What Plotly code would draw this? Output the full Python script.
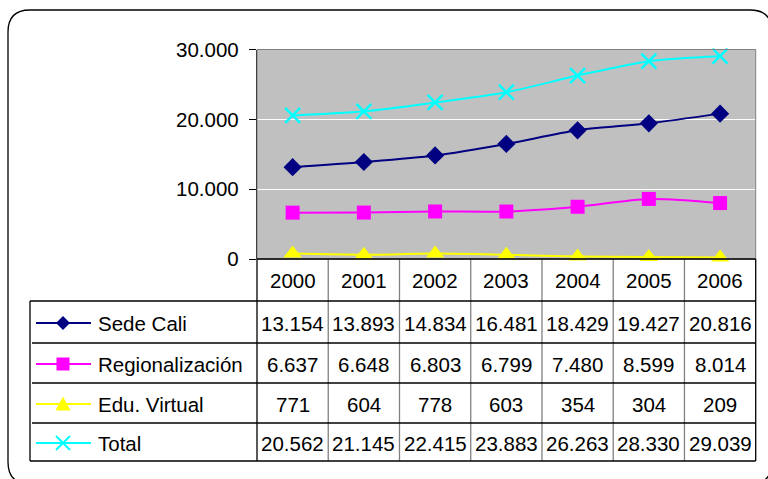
import plotly.graph_objects as go

# ---------------- data ----------------
years = ["2000", "2001", "2002", "2003", "2004", "2005", "2006"]
sede_cali = [13154, 13893, 14834, 16481, 18429, 19427, 20816]
regionalizacion = [6637, 6648, 6803, 6799, 7480, 8599, 8014]
edu_virtual = [771, 604, 778, 603, 354, 304, 209]
total = [20562, 21145, 22415, 23883, 26263, 28330, 29039]
series_names = ["Sede Cali", "Regionalización", "Edu. Virtual", "Total"]
y_tickvals = [0, 10000, 20000, 30000]
y_ticktext = ["0", "10.000", "20.000", "30.000"]

# ---------------- styling ----------------
W, H = 768, 479
FONT = "Liberation Sans, Arial, sans-serif"
FS = 20.5
colors = ["#000080", "#FF00FF", "#FFFF00", "#00FFFF"]
symbols = ["diamond", "square", "triangle-up", "x-thin"]
msizes = [14, 14, 16, 15]
series_vals = [sede_cali, regionalizacion, edu_virtual, total]

def X(px):
    return px / W

def Y(py):
    return 1 - py / H

def fmt(v):
    return f"{v:,}".replace(",", ".")

# plot area pixels
PL, PR, PT, PB = 257, 755.7, 49.5, 259
TL = 30
row_edges = [301, 343, 383, 423, 461]

fig = go.Figure()

for name, vals, c, s, ms in zip(series_names, series_vals, colors, symbols, msizes):
    fig.add_trace(go.Scatter(
        x=years, y=vals, name=name, mode="lines+markers",
        line=dict(color=c, width=2, shape="spline", smoothing=0.8),
        marker=dict(symbol=s, size=ms, color=c,
                    line=dict(color=c, width=2.5 if s == "x-thin" else 0)),
        cliponaxis=False, showlegend=False,
    ))

shapes = []
# outer rounded border
r = 22
x0, y0, x1, y1 = 8, 10, 772, 484
path = (f"M {X(x0+r)},{Y(y0)} L {X(x1-r)},{Y(y0)} Q {X(x1)},{Y(y0)} {X(x1)},{Y(y0+r)} "
        f"L {X(x1)},{Y(y1-r)} Q {X(x1)},{Y(y1)} {X(x1-r)},{Y(y1)} "
        f"L {X(x0+r)},{Y(y1)} Q {X(x0)},{Y(y1)} {X(x0)},{Y(y1-r)} "
        f"L {X(x0)},{Y(y0+r)} Q {X(x0)},{Y(y0)} {X(x0+r)},{Y(y0)} Z")
shapes.append(dict(type="path", path=path, xref="paper", yref="paper",
                   line=dict(color="#000000", width=1.3), layer="below"))

# plot area outline
shapes.append(dict(type="rect", xref="paper", yref="paper",
                   x0=X(PL), x1=X(PR), y0=Y(PB), y1=Y(PT),
                   line=dict(color="#808080", width=1), layer="above"))

# table vertical lines
ncol = len(years)
colw = (PR - PL) / ncol
for k in range(ncol + 1):
    xx = PL + k * colw
    shapes.append(dict(type="line", xref="paper", yref="paper",
                       x0=X(xx), x1=X(xx), y0=Y(PB), y1=Y(row_edges[-1]),
                       line=dict(color="#808080" if 0 < k < ncol else "#000000", width=1.3)))
# left table edge
shapes.append(dict(type="line", xref="paper", yref="paper",
                   x0=X(TL), x1=X(TL), y0=Y(row_edges[0]), y1=Y(row_edges[-1]),
                   line=dict(color="#000000", width=1.3)))
# horizontal lines
for i, ye in enumerate(row_edges):
    xs = TL if i in (0, len(row_edges) - 1) else TL + 2
    shapes.append(dict(type="line", xref="paper", yref="paper",
                       x0=X(xs), x1=X(PR), y0=Y(ye), y1=Y(ye),
                       line=dict(color="#000000", width=1.3)))
# x-axis line (top of header row)
shapes.append(dict(type="line", xref="paper", yref="paper",
                   x0=X(PL), x1=X(PR), y0=Y(PB), y1=Y(PB),
                   line=dict(color="#000000", width=1.3)))

annotations = []
# header years
for j, yr in enumerate(years):
    annotations.append(dict(x=j, xref="x", y=Y((PB + row_edges[0]) / 2), yref="paper",
                            text=yr, showarrow=False, xanchor="center", yanchor="middle",
                            font=dict(family=FONT, size=FS, color="#000000")))

# legend key + labels + values
lx0, lx1, lmx = 36, 91, 63
for i, (name, vals, c) in enumerate(zip(series_names, series_vals, colors)):
    cy = (row_edges[i] + row_edges[i + 1]) / 2 + 1
    shapes.append(dict(type="line", xref="paper", yref="paper",
                       x0=X(lx0), x1=X(lx1), y0=Y(cy), y1=Y(cy),
                       line=dict(color=c, width=2)))
    if i == 0:
        d = 7
        shapes.append(dict(type="path", xref="paper", yref="paper",
                           path=f"M {X(lmx)},{Y(cy-d)} L {X(lmx+d)},{Y(cy)} L {X(lmx)},{Y(cy+d)} L {X(lmx-d)},{Y(cy)} Z",
                           fillcolor=c, line=dict(color=c, width=0)))
    elif i == 1:
        d = 6.5
        shapes.append(dict(type="rect", xref="paper", yref="paper",
                           x0=X(lmx-d), x1=X(lmx+d), y0=Y(cy+d), y1=Y(cy-d),
                           fillcolor=c, line=dict(color=c, width=0)))
    elif i == 2:
        d = 7.5
        shapes.append(dict(type="path", xref="paper", yref="paper",
                           path=f"M {X(lmx)},{Y(cy-d)} L {X(lmx+d)},{Y(cy+d-1)} L {X(lmx-d)},{Y(cy+d-1)} Z",
                           fillcolor=c, line=dict(color=c, width=0)))
    else:
        d = 7
        shapes.append(dict(type="line", xref="paper", yref="paper",
                           x0=X(lmx-d), x1=X(lmx+d), y0=Y(cy-d), y1=Y(cy+d),
                           line=dict(color=c, width=2)))
        shapes.append(dict(type="line", xref="paper", yref="paper",
                           x0=X(lmx-d), x1=X(lmx+d), y0=Y(cy+d), y1=Y(cy-d),
                           line=dict(color=c, width=2)))
    annotations.append(dict(x=X(96), xref="paper", y=Y(cy), yref="paper",
                            text=name, showarrow=False, xanchor="left", yanchor="middle",
                            font=dict(family=FONT, size=FS, color="#000000")))
    for j, v in enumerate(vals):
        annotations.append(dict(x=j, xref="x", y=Y(cy), yref="paper",
                                text=fmt(v), showarrow=False, xanchor="center", yanchor="middle",
                                font=dict(family=FONT, size=FS, color="#000000")))

fig.update_layout(
    width=W, height=H,
    margin=dict(l=0, r=0, t=0, b=0, autoexpand=False),
    paper_bgcolor="#FFFFFF",
    plot_bgcolor="#C0C0C0",
    xaxis=dict(domain=[X(PL), X(PR)], type="category", range=[-0.5, 6.5],
               showticklabels=False, showgrid=False, zeroline=False,
               showline=False, ticks="", automargin=False),
    yaxis=dict(domain=[Y(PB), Y(PT)], range=[0, 30000],
               tickvals=y_tickvals, ticktext=y_ticktext,
               ticks="outside", ticklen=7, tickcolor="#000000", tickwidth=1.3,
               ticklabelstandoff=6, automargin=False,
               showline=True, linecolor="#000000", linewidth=1.3,
               showgrid=True, gridcolor="#FFFFFF", gridwidth=1,
               zeroline=False,
               tickfont=dict(family=FONT, size=FS, color="#000000")),
    shapes=shapes,
    annotations=annotations,
)

fig.write_html("out.html", config={"displayModeBar": False},
               post_script="document.body.style.margin='0';document.body.style.overflow='hidden';")
